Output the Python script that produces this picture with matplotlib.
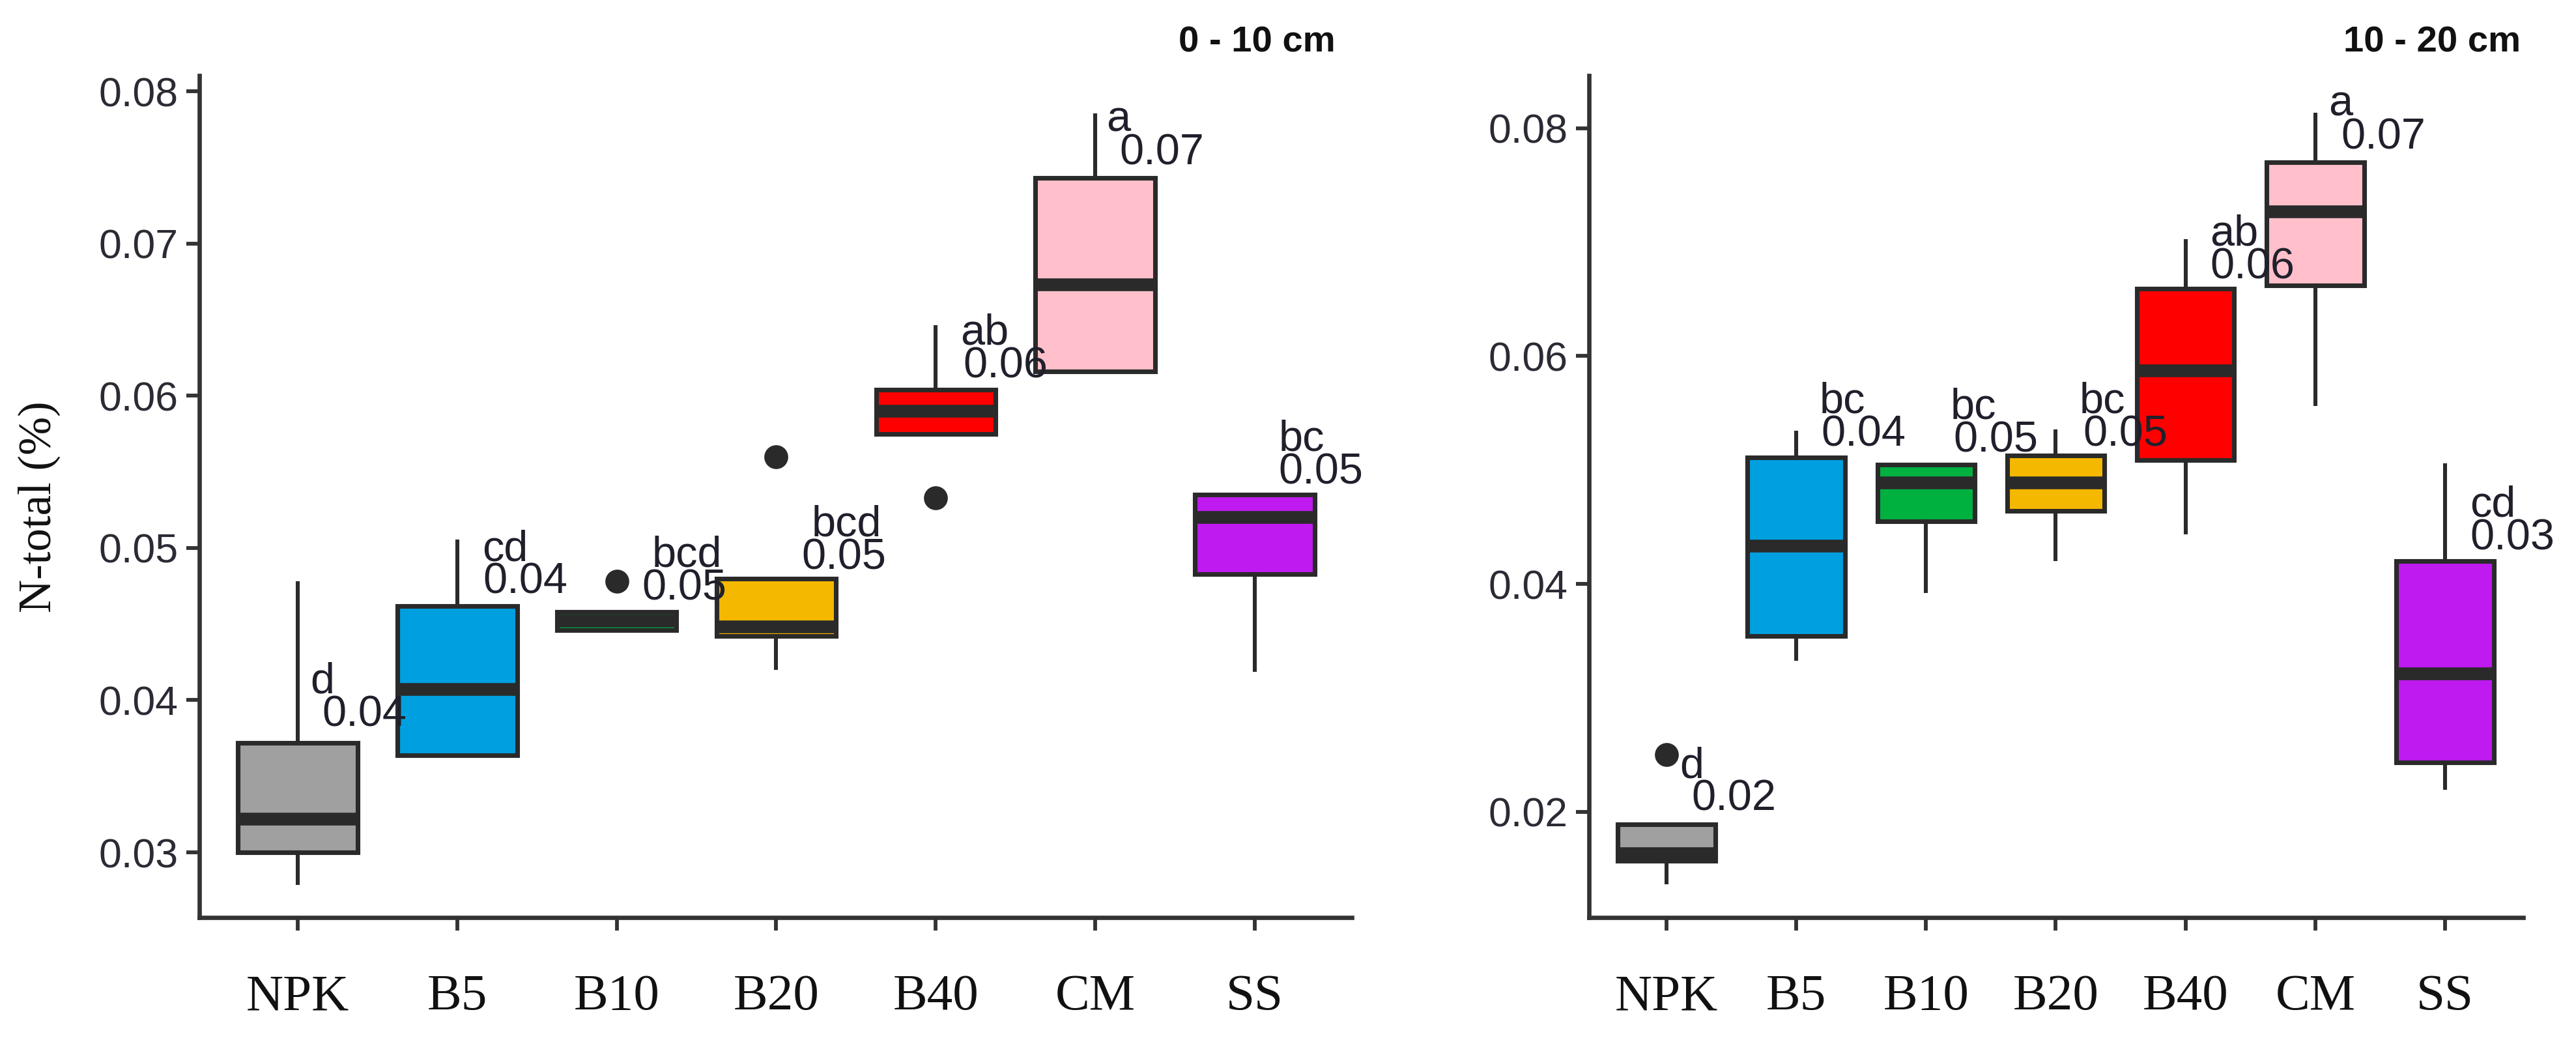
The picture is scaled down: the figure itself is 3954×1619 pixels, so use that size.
import matplotlib
matplotlib.use("Agg")
import matplotlib.pyplot as plt

# treatments
groups = ["NPK", "B5", "B10", "B20", "B40", "CM", "SS"]
fills = ["#a0a0a0", "#00a0e0", "#00b140", "#f5b800", "#ff0000", "#ffc0cb", "#bf1aef"]

# 0 - 10 cm
top_q1 = [0.0300, 0.0364, 0.0446, 0.0442, 0.0575, 0.0616, 0.0483]
top_med = [0.0322, 0.0407, 0.0452, 0.0448, 0.0590, 0.0673, 0.0520]
top_q3 = [0.0372, 0.0462, 0.0458, 0.0480, 0.0604, 0.0743, 0.0535]
top_lo = [0.0280, 0.0364, 0.0446, 0.0421, 0.0575, 0.0616, 0.0420]
top_hi = [0.0477, 0.0504, 0.0458, 0.0480, 0.0645, 0.0784, 0.0535]
top_out = [[], [], [0.0478], [0.0560], [0.0533], [], []]
top_letters = ["d", "cd", "bcd", "bcd", "ab", "a", "bc"]
top_means = ["0.04", "0.04", "0.05", "0.05", "0.06", "0.07", "0.05"]
top_lab_y = [0.0383, 0.0470, 0.0466, 0.0486, 0.0612, 0.0752, 0.0542]
top_let_x = [1.08, 2.155, 3.22, 4.22, 5.155, 6.07, 7.15]
top_num_x = [1.155, 2.16, 3.16, 4.16, 5.17, 6.15, 7.15]

# 10 - 20 cm
sub_q1 = [0.0157, 0.0354, 0.0455, 0.0464, 0.0509, 0.0662, 0.0243]
sub_med = [0.0163, 0.0433, 0.0489, 0.0489, 0.0587, 0.0727, 0.0321]
sub_q3 = [0.0189, 0.0511, 0.0505, 0.0513, 0.0659, 0.0770, 0.0420]
sub_lo = [0.0138, 0.0334, 0.0394, 0.0422, 0.0445, 0.0558, 0.0221]
sub_hi = [0.0189, 0.0533, 0.0505, 0.0534, 0.0701, 0.0812, 0.0504]
sub_out = [[0.0250], [], [], [], [], [], []]
sub_letters = ["d", "bc", "bc", "bc", "ab", "a", "cd"]
sub_means = ["0.02", "0.04", "0.05", "0.05", "0.06", "0.07", "0.03"]
sub_lab_y = [0.0201, 0.0521, 0.0516, 0.0521, 0.0668, 0.0782, 0.0430]
sub_let_x = [1.10, 2.18, 3.19, 4.18, 5.19, 6.10, 7.19]
sub_num_x = [1.195, 2.19, 3.21, 4.21, 5.19, 6.20, 7.19]

DARK = "#2a2a2a"
SANS = ["Liberation Sans", "DejaVu Sans"]
SERIF = ["Liberation Serif", "DejaVu Serif"]


def draw_panel(ax, q1, med, q3, lo, hi, out, letters, means, lab_y, let_x, num_x,
               xlim, ylim, yticks):
    stats = []
    for i in range(len(groups)):
        stats.append(dict(label=groups[i], q1=q1[i], med=med[i], q3=q3[i],
                          whislo=lo[i], whishi=hi[i], fliers=out[i]))
    bp = ax.bxp(stats, positions=range(1, len(groups) + 1), widths=0.75,
                patch_artist=True, showcaps=False,
                boxprops=dict(edgecolor=DARK, linewidth=1.7),
                whiskerprops=dict(color=DARK, linewidth=1.45),
                medianprops=dict(color=DARK, linewidth=4.7, solid_capstyle="butt"),
                flierprops=dict(marker="o", markersize=7.8, markerfacecolor=DARK,
                                markeredgecolor=DARK))
    for patch, c in zip(bp["boxes"], fills):
        patch.set_facecolor(c)

    for i in range(len(groups)):
        ax.annotate(letters[i], xy=(let_x[i], lab_y[i]), xytext=(0, 12.2),
                    textcoords="offset points", ha="left", va="baseline",
                    fontsize=16, family=SANS, color="#20202c", zorder=10,
                    annotation_clip=False)
        ax.annotate(means[i], xy=(num_x[i], lab_y[i]), ha="left", va="baseline",
                    fontsize=16, family=SANS, color="#20202c", zorder=10,
                    annotation_clip=False)

    ax.set_xlim(*xlim)
    ax.set_ylim(*ylim)
    ax.set_yticks(yticks)
    ax.set_yticklabels(["%.2f" % v for v in yticks], family=SANS, fontsize=15,
                       color="#2b2b35")
    ax.set_xticks(range(1, len(groups) + 1))
    ax.set_xticklabels(groups, family=SERIF, fontsize=19, color="#111111")
    for side in ["top", "right"]:
        ax.spines[side].set_visible(False)
    for side in ["left", "bottom"]:
        ax.spines[side].set_linewidth(1.6)
        ax.spines[side].set_color("#333333")
    ax.tick_params(axis="both", width=1.4, length=4.8, color="#333333")
    ax.tick_params(axis="x", pad=16)
    ax.tick_params(axis="y", pad=3)


fig = plt.figure(figsize=(3954 / 300, 1619 / 300), dpi=300)
ax1 = fig.add_axes([0.07739, 0.13033, 0.44739, 0.79802])
ax2 = fig.add_axes([0.61684, 0.13033, 0.36267, 0.79802])

draw_panel(ax1, top_q1, top_med, top_q3, top_lo, top_hi, top_out,
           top_letters, top_means, top_lab_y, top_let_x, top_num_x,
           (0.384, 7.608), (0.02572, 0.08103), [0.03, 0.04, 0.05, 0.06, 0.07, 0.08])
draw_panel(ax2, sub_q1, sub_med, sub_q3, sub_lo, sub_hi, sub_out,
           sub_letters, sub_means, sub_lab_y, sub_let_x, sub_num_x,
           (0.403, 7.602), (0.01071, 0.08463), [0.02, 0.04, 0.06, 0.08])

fig.text(2050 / 3954, 1 - 65 / 1619, "0 - 10 cm", ha="right", va="center",
         fontsize=13.5, fontweight="bold", family=SANS, color="#111111")
fig.text(3869 / 3954, 1 - 65 / 1619, "10 - 20 cm", ha="right", va="center",
         fontsize=13.5, fontweight="bold", family=SANS, color="#111111")
fig.text(60 / 3954, 1 - 778 / 1619, "N-total (%)", rotation=90, ha="center",
         va="center", fontsize=17, family=SERIF, color="#111111")

fig.savefig("out.png", dpi=300, facecolor="white")
